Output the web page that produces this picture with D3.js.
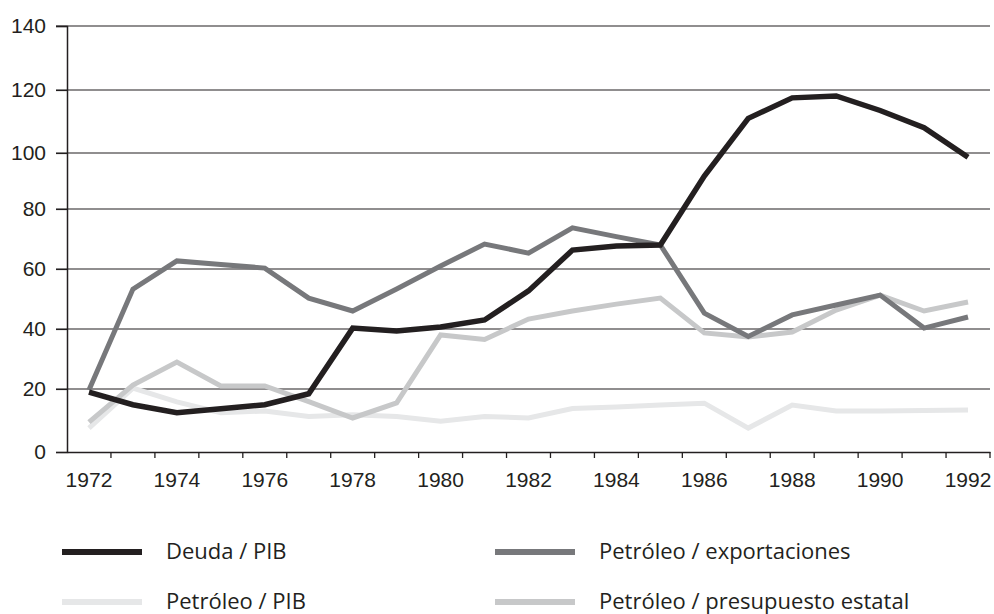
<!DOCTYPE html>
<html>
<head>
<meta charset="utf-8">
<script src="https://cdn.jsdelivr.net/npm/d3@7"></script>
<style>
	body { margin: 0; background: #fff; }
	svg { display: block; font-family: "Open Sans", sans-serif; }
</style>
</head>
<body>
<svg id="chart" width="994" height="614"></svg>
<script>
var years = ["1972", "1973", "1974", "1975", "1976", "1977", "1978", "1979", "1980", "1981", "1982",
	"1983", "1984", "1985", "1986", "1987", "1988", "1989", "1990", "1991", "1992"];
var yearLabels = ["1972", "1974", "1976", "1978", "1980", "1982", "1984", "1986", "1988", "1990", "1992"];
var yTicks = [0, 20, 40, 60, 80, 100, 120, 140];

var deudaPib = [19, 15, 12.5, 13.7, 15, 18.5, 40.3, 39.3, 40.7, 43, 52.7, 66.3, 67.7, 68, 91.8, 111, 117.5, 118.1, 113.5, 108, 98.5];
var petroleoExport = [19.7, 53.3, 62.7, 61.5, 60.3, 50.3, 46, 53.3, 61, 68.3, 65.3, 73.7, 70.8, 68, 45.3, 37.5, 44.7, 48, 51.3, 40.3, 44];
var petroleoPib = [7.6, 20.3, 15.9, 12.5, 13, 11.3, 11.8, 11.3, 9.8, 11.3, 10.8, 13.8, 14.3, 14.9, 15.5, 7.6, 14.9, 13, 13, 13.2, 13.3];
var petroleoPresup = [9.5, 21.3, 29, 21, 21, 16, 10.8, 15.6, 38, 36.5, 43.3, 46, 48.3, 50.3, 38.7, 37.3, 39, 46.3, 51.3, 46, 49];

var seriesNames = ["Deuda / PIB", "Petróleo / exportaciones", "Petróleo / PIB", "Petróleo / presupuesto estatal"];
var seriesValues = [deudaPib, petroleoExport, petroleoPib, petroleoPresup];
var seriesColors = ["#231f20", "#77787b", "#e6e7e8", "#c7c8c9"];
var seriesWidths = [5.5, 5, 5, 5];

(function () {
	var svg = d3.select("#chart");
	var left = 67, right = 990;

	var x = d3.scaleBand()
		.domain(years)
		.range([left, right])
		.padding(0);

	// the printed gridlines are not evenly spaced, so follow them
	var y = d3.scaleLinear()
		.domain(yTicks)
		.range([452, 389, 329, 269, 209, 153, 90, 26]);

	// gridlines
	svg.append("g")
		.selectAll("line")
		.data(yTicks.slice(1))
		.enter().append("line")
		.attr("x1", left - 11)
		.attr("x2", right)
		.attr("y1", function (d) { return y(d); })
		.attr("y2", function (d) { return y(d); })
		.attr("stroke", "#231f20")
		.attr("stroke-width", 1.2);

	// y axis
	var yAxis = svg.append("g")
		.attr("transform", "translate(" + left + ",0)")
		.call(d3.axisLeft(y).tickValues(yTicks).tickSize(11).tickPadding(10).tickFormat(d3.format("d")));
	yAxis.select(".domain").attr("stroke", "#231f20").attr("stroke-width", 1.5);
	yAxis.selectAll(".tick line").attr("stroke", "#231f20").attr("stroke-width", 1.2);
	yAxis.selectAll("text")
		.attr("fill", "#231f20")
		.style("font-size", "21px");

	// x axis: labels in the bands, ticks on the band edges
	var xAxis = svg.append("g")
		.attr("transform", "translate(0," + y(0) + ")")
		.call(d3.axisBottom(x).tickValues(yearLabels).tickSize(0).tickPadding(20));
	xAxis.select(".domain").attr("stroke", "#231f20").attr("stroke-width", 1.5);
	xAxis.selectAll("text")
		.attr("fill", "#231f20")
		.style("font-size", "21px");

	xAxis.selectAll(".edge")
		.data(years.slice(1).concat(["end"]))
		.enter().append("line")
		.attr("class", "edge")
		.attr("x1", function (d) { return d === "end" ? right : x(d); })
		.attr("x2", function (d) { return d === "end" ? right : x(d); })
		.attr("y1", 0)
		.attr("y2", 6)
		.attr("stroke", "#231f20")
		.attr("stroke-width", 1.3);

	var line = d3.line()
		.x(function (d, i) { return x(years[i]) + x.bandwidth() / 2; })
		.y(function (d) { return y(d); });

	// drawing order: lightest at the bottom, debt on top
	var order = [2, 3, 1, 0];
	svg.append("g")
		.selectAll("path")
		.data(order)
		.enter().append("path")
		.attr("d", function (k) { return line(seriesValues[k]); })
		.attr("fill", "none")
		.attr("stroke", function (k) { return seriesColors[k]; })
		.attr("stroke-width", function (k) { return seriesWidths[k]; })
		.attr("stroke-linejoin", "miter")
		.attr("stroke-miterlimit", 3);

	// legend
	var legendPos = [
		{ x: 62, y: 552 },
		{ x: 495, y: 552 },
		{ x: 62, y: 602 },
		{ x: 495, y: 602 }
	];
	var legend = svg.append("g")
		.selectAll("g")
		.data(seriesNames)
		.enter().append("g")
		.attr("transform", function (d, i) { return "translate(" + legendPos[i].x + "," + legendPos[i].y + ")"; });

	legend.append("line")
		.attr("x1", 0)
		.attr("x2", 80)
		.attr("stroke", function (d, i) { return seriesColors[i]; })
		.attr("stroke-width", 6);

	legend.append("text")
		.attr("x", 104)
		.attr("dy", "0.33em")
		.attr("fill", "#231f20")
		.style("font-size", "22px")
		.text(function (d) { return d; });
}) ();
</script>
</body>
</html>
